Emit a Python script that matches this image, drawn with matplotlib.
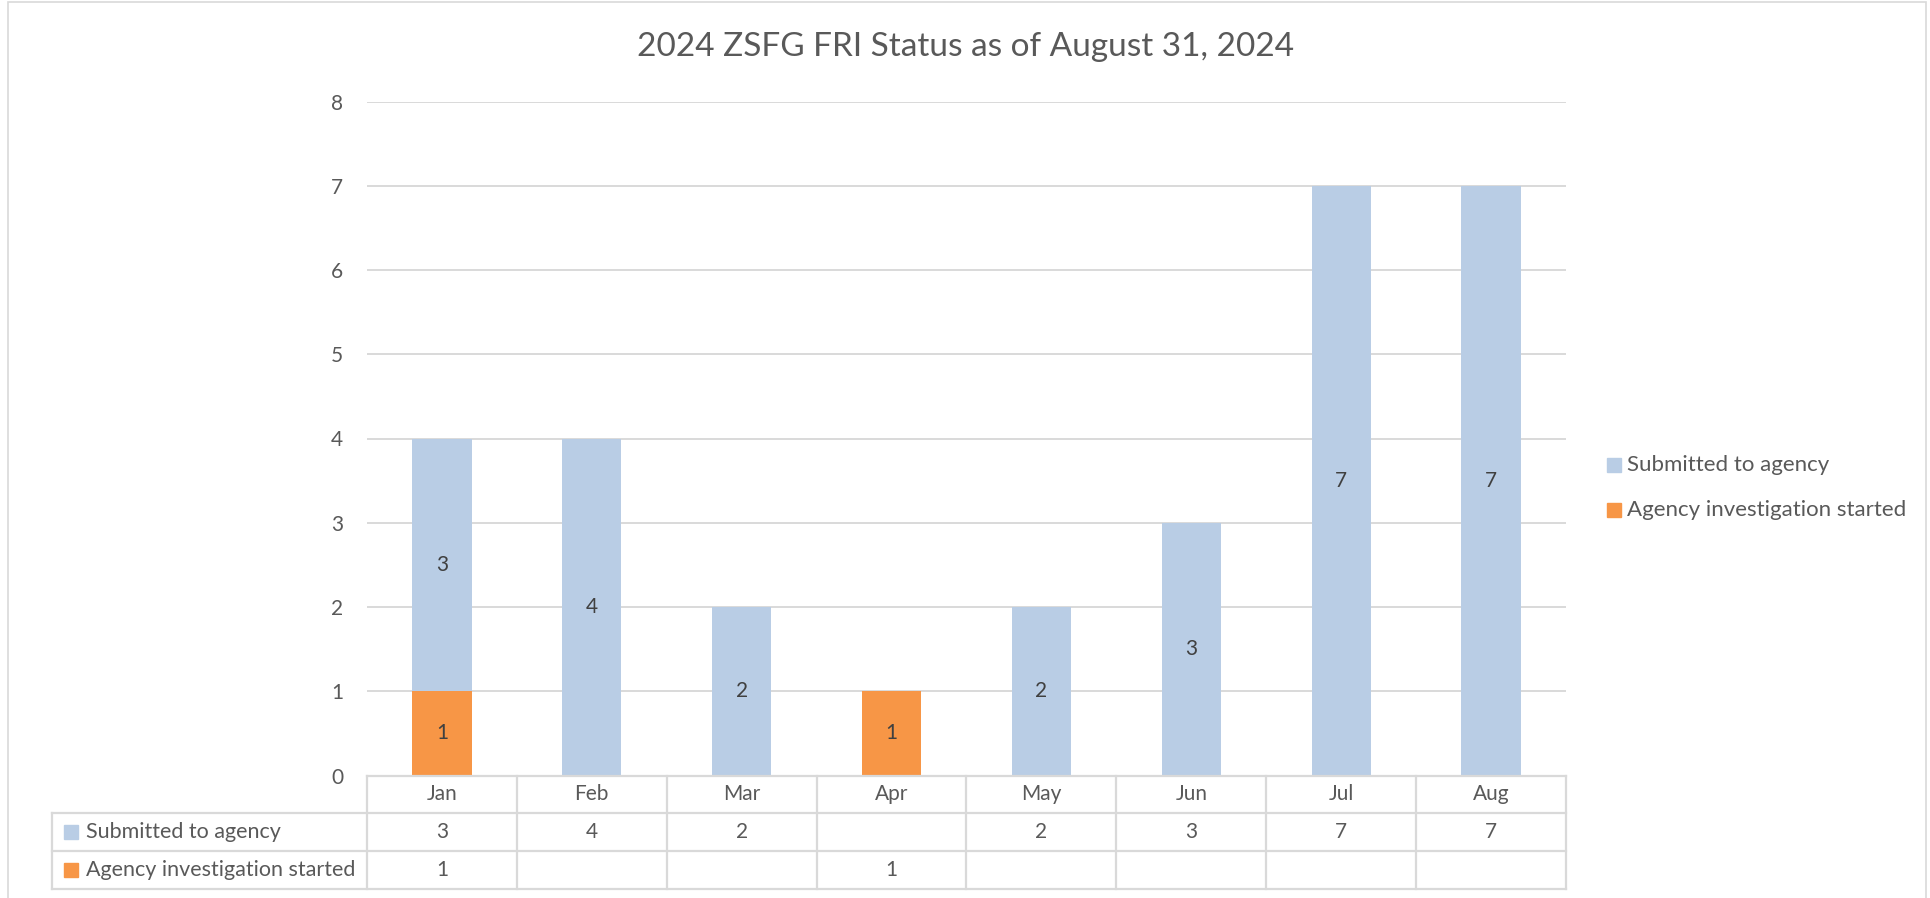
import matplotlib.pyplot as plt
from matplotlib.patches import Rectangle

plt.rcParams['font.family'] = ['Lato', 'DejaVu Sans']

# data
months = ["Jan", "Feb", "Mar", "Apr", "May", "Jun", "Jul", "Aug"]
submitted = [3, 4, 2, None, 2, 3, 7, 7]
started = [1, None, None, 1, None, None, None, None]
series_names = ["Submitted to agency", "Agency investigation started"]
title = "2024 ZSFG FRI Status as of August 31, 2024"

blue = "#B9CDE5"
orange = "#F79646"
grid_col = "#D9D9D9"
txt = "#595959"
lbl = "#404040"

W, H = 1931, 898
fig = plt.figure(figsize=(W / 100, H / 100), dpi=100)


def px_box(left, top, right, bottom):
    return [left / W, 1 - bottom / H, (right - left) / W, (bottom - top) / H]


# chart frame
fig.patches.append(Rectangle((8 / W, -0.01), (1926 - 8) / W, (H - 2) / H + 0.01,
                             transform=fig.transFigure, fill=False,
                             edgecolor=grid_col, lw=1.2))

ax = fig.add_axes(px_box(367, 101.5, 1566, 775.5))
x = list(range(len(months)))
sub_vals = [v or 0 for v in submitted]
sta_vals = [v or 0 for v in started]
bw = 0.396

ax.bar(x, sta_vals, width=bw, color=orange, zorder=2)
ax.bar(x, sub_vals, width=bw, bottom=sta_vals, color=blue, zorder=2)
for i in x:
    if sta_vals[i]:
        ax.text(i, sta_vals[i] / 2, str(sta_vals[i]), ha="center", va="center",
                fontsize=15, color=lbl)
    if sub_vals[i]:
        ax.text(i, sta_vals[i] + sub_vals[i] / 2, str(sub_vals[i]), ha="center",
                va="center", fontsize=15, color=lbl)

ax.set_xlim(-0.5, len(months) - 0.5)
ax.set_ylim(0, 8)
ax.set_yticks(range(0, 9))
ax.set_xticks([])
ax.yaxis.grid(True, color=grid_col, lw=1.4)
ax.set_axisbelow(True)
ax.tick_params(axis="y", length=0, pad=17, labelsize=15, labelcolor=txt)
for s in ax.spines.values():
    s.set_visible(False)

# data table under the chart
unit = 8 / (1566 - 367)
xl = -0.5 - (367 - 52) * unit
tab = fig.add_axes(px_box(52, 775.5, 1566, 889))
tab.set_xlim(xl, 7.5)
tab.set_ylim(3, 0)
tab.axis("off")
lk = dict(color=grid_col, lw=1.6, clip_on=False, solid_capstyle="projecting")
for i in range(len(months) + 1):
    tab.plot([-0.5 + i, -0.5 + i], [0, 3], **lk)
tab.plot([xl, xl], [1, 3], **lk)
tab.plot([-0.5, 7.5], [0, 0], **lk)
for r in (1, 2, 3):
    tab.plot([xl, 7.5], [r, r], **lk)

for i, m in enumerate(months):
    tab.text(i, 0.5, m, ha="center", va="center", fontsize=15, color=txt)
    if submitted[i] is not None:
        tab.text(i, 1.5, str(submitted[i]), ha="center", va="center", fontsize=15, color=txt)
    if started[i] is not None:
        tab.text(i, 2.5, str(started[i]), ha="center", va="center", fontsize=15, color=txt)

rows_h = (889 - 775.5) / 3
sq_w = 14 * unit
sq_h = 14 / rows_h
for r, (name, col) in enumerate(zip(series_names, [blue, orange])):
    tab.add_patch(Rectangle((xl + 12 * unit, 1.5 + r - sq_h / 2), sq_w, sq_h,
                            color=col, clip_on=False))
    tab.text(xl + 34 * unit, 1.5 + r, name, ha="left", va="center",
             fontsize=15.5, color=txt)

# legend on the right
for r, (name, col) in enumerate(zip(series_names, [blue, orange])):
    yc = 465 + r * 45
    fig.patches.append(Rectangle((1607 / W, 1 - (yc + 7) / H), 14 / W, 14 / H,
                                 transform=fig.transFigure, color=col))
    fig.text(1627 / W, 1 - yc / H, name, ha="left", va="center",
             fontsize=16, color=txt)

fig.text(966 / W, 1 - 47 / H, title, ha="center", va="center", fontsize=24, color=txt)

fig.savefig("out.png", dpi=100)
